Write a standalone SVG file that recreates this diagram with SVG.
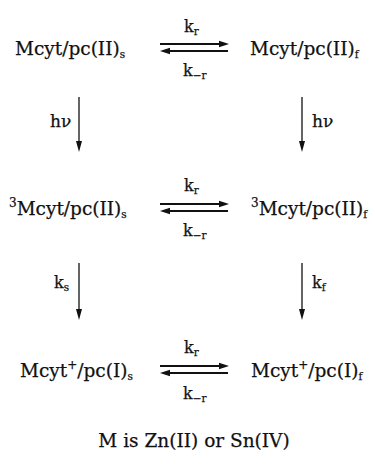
<svg xmlns="http://www.w3.org/2000/svg" width="375" height="464" viewBox="0 0 375 464">
<style>
text{font-family:"DejaVu Serif","Liberation Serif",serif;fill:#111;stroke:#111;stroke-width:0.25;}
.sp{font-size:18.5px;}
.k{font-size:16px;}
.hv{font-size:17px;}
.sub{font-size:10.5px;}
.sup{font-size:12px;}
.ln{stroke:#111;stroke-width:1.9;fill:none;}
.vl{stroke:#111;stroke-width:1.3;fill:none;}
.hd{fill:#111;}
</style>
<rect width="375" height="464" fill="#fff"/>
<g id="connectors">
  <line class="ln" x1="160" y1="44" x2="222" y2="44"/><path class="hd" d="M229,44 L219,40.8 L219,47.2 Z"/>
  <line class="ln" x1="167" y1="51" x2="228" y2="51"/><path class="hd" d="M160,51 L170,47.8 L170,54.2 Z"/>
  <line class="ln" x1="160" y1="204" x2="222" y2="204"/><path class="hd" d="M229,204 L219,200.8 L219,207.2 Z"/>
  <line class="ln" x1="167" y1="211" x2="228" y2="211"/><path class="hd" d="M160,211 L170,207.8 L170,214.2 Z"/>
  <line class="ln" x1="160" y1="366" x2="222" y2="366"/><path class="hd" d="M229,366 L219,362.8 L219,369.2 Z"/>
  <line class="ln" x1="167" y1="373" x2="228" y2="373"/><path class="hd" d="M160,373 L170,369.8 L170,376.2 Z"/>
  <line class="vl" x1="79" y1="97" x2="79" y2="143"/><path class="hd" d="M79,152 L76,141 L82,141 Z"/>
  <line class="vl" x1="302" y1="97" x2="302" y2="143"/><path class="hd" d="M302,152 L299,141 L305,141 Z"/>
  <line class="vl" x1="79" y1="263" x2="79" y2="310"/><path class="hd" d="M79,320 L76,309 L82,309 Z"/>
  <line class="vl" x1="302" y1="263" x2="302" y2="310"/><path class="hd" d="M302,320 L299,309 L305,309 Z"/>
</g>
<g id="labels">
  <text class="k" x="184" y="32">k<tspan class="sub" dy="3">r</tspan></text>
  <text class="k" x="183" y="76">k<tspan class="sub" dy="3">−r</tspan></text>
  <text class="k" x="184" y="191">k<tspan class="sub" dy="3">r</tspan></text>
  <text class="k" x="183" y="236">k<tspan class="sub" dy="3">−r</tspan></text>
  <text class="k" x="184" y="353">k<tspan class="sub" dy="3">r</tspan></text>
  <text class="k" x="183" y="399">k<tspan class="sub" dy="3">−r</tspan></text>
  <text class="hv" x="50" y="127">hν</text>
  <text class="hv" x="312" y="127">hν</text>
  <text class="k" x="54" y="288">k<tspan class="sub" dy="3">s</tspan></text>
  <text class="k" x="312" y="288">k<tspan class="sub" dy="3">f</tspan></text>
</g>
<g id="node-r1s"><text class="sp" x="15" y="55">Mcyt/pc(II)<tspan class="sub" dy="3">s</tspan></text></g>
<g id="node-r1f"><text class="sp" x="250" y="55">Mcyt/pc(II)<tspan class="sub" dy="3">f</tspan></text></g>
<g id="node-r2s"><text class="sp" x="9" y="215"><tspan class="sup" dy="-8">3</tspan><tspan dy="8">Mcyt/pc(II)</tspan><tspan class="sub" dy="3">s</tspan></text></g>
<g id="node-r2f"><text class="sp" x="251" y="215"><tspan class="sup" dy="-8">3</tspan><tspan dy="8">Mcyt/pc(II)</tspan><tspan class="sub" dy="3">f</tspan></text></g>
<g id="node-r3s"><text class="sp" x="20" y="377">Mcyt<tspan class="sup" dy="-8">+</tspan><tspan dy="8">/pc(I)</tspan><tspan class="sub" dy="3">s</tspan></text></g>
<g id="node-r3f"><text class="sp" x="251" y="377">Mcyt<tspan class="sup" dy="-8">+</tspan><tspan dy="8">/pc(I)</tspan><tspan class="sub" dy="3">f</tspan></text></g>
<g id="caption"><text class="sp" x="194" y="447" text-anchor="middle">M is Zn(II) or Sn(IV)</text></g>
</svg>
